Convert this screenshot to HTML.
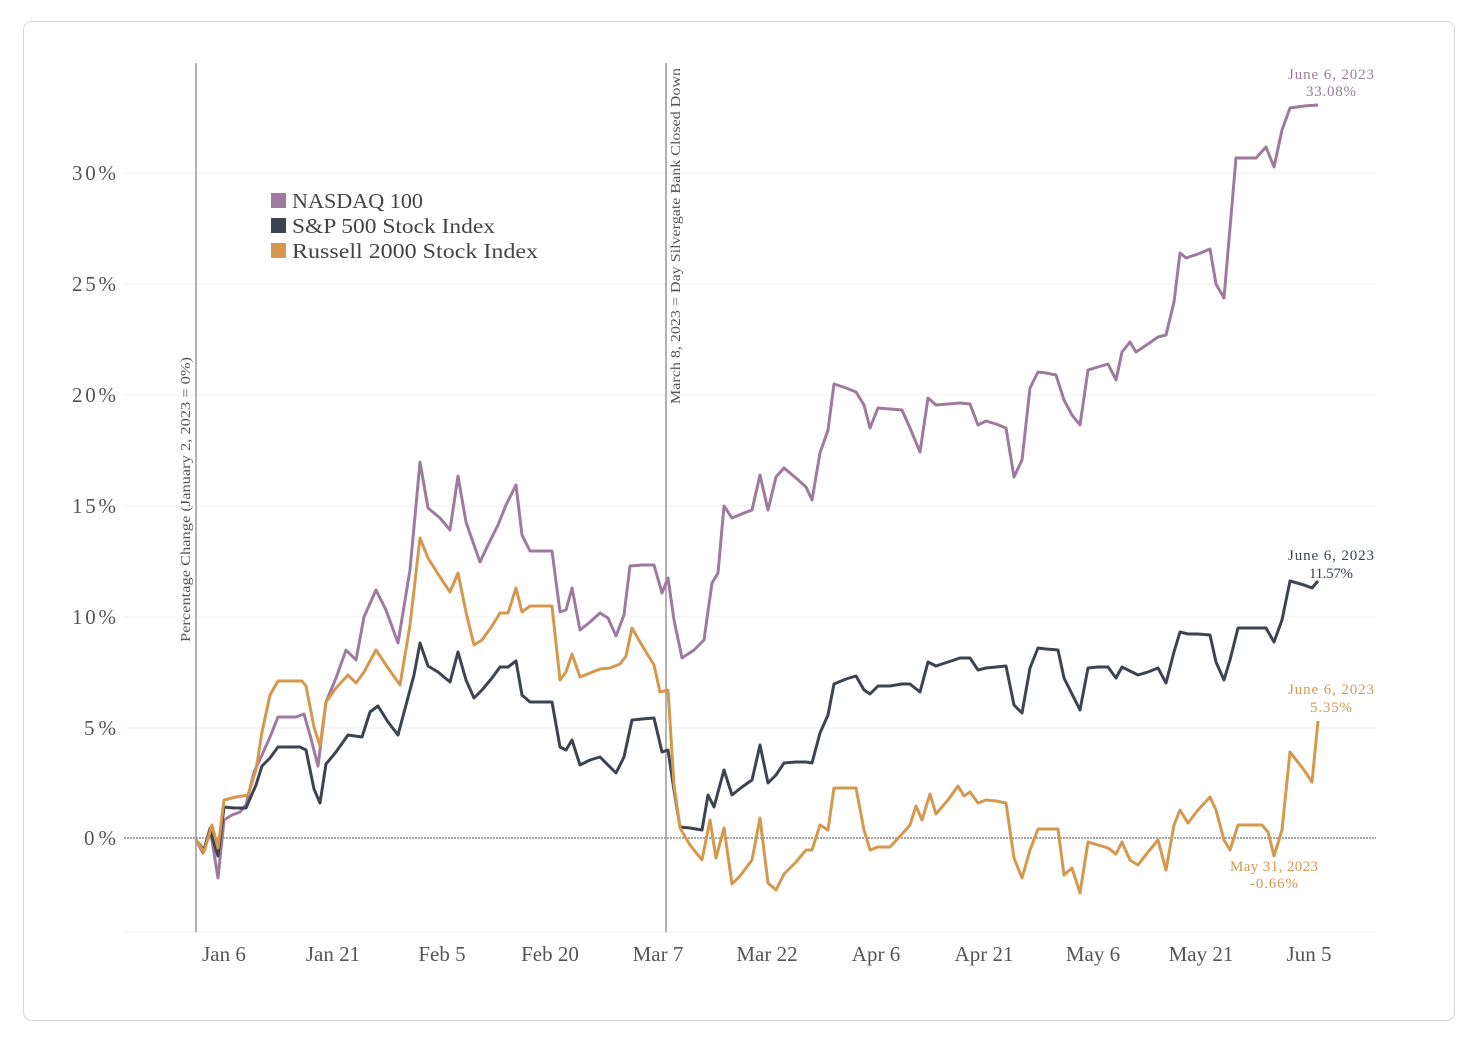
<!DOCTYPE html>
<html><head><meta charset="utf-8"><style>
html,body{margin:0;padding:0;background:#fff;}
svg{display:block;font-family:"Liberation Serif",serif;}
</style></head><body>
<svg width="1466" height="1038" viewBox="0 0 1466 1038" xmlns="http://www.w3.org/2000/svg">
<rect x="23.5" y="21.5" width="1431" height="999" rx="8" fill="#fff" stroke="#d8d8d8"/>
<g stroke="#f0f0f0" stroke-width="1">
<line x1="124" x2="1376" y1="173" y2="173"/><line x1="124" x2="1376" y1="284" y2="284"/>
<line x1="124" x2="1376" y1="395" y2="395"/><line x1="124" x2="1376" y1="506" y2="506"/>
<line x1="124" x2="1376" y1="617" y2="617"/><line x1="124" x2="1376" y1="728" y2="728"/>
<line x1="124" x2="1376" y1="932" y2="932"/>
</g>
<line x1="124" x2="1376" y1="838" y2="838" stroke="#888" stroke-width="1.5" stroke-dasharray="2,1"/>
<line x1="196" x2="196" y1="63" y2="932" stroke="#999" stroke-width="1.5"/>
<line x1="666" x2="666" y1="63" y2="932" stroke="#999" stroke-width="1.5"/>
<g font-size="21" fill="#555" text-anchor="end">
<text x="116" y="180" textLength="44">30%</text><text x="116" y="291" textLength="44">25%</text><text x="116" y="402" textLength="44">20%</text>
<text x="116" y="513" textLength="44">15%</text><text x="116" y="624" textLength="44">10%</text><text x="116" y="735" textLength="32">5%</text>
<text x="116" y="845" textLength="32">0%</text>
</g>
<g font-size="21" fill="#555" text-anchor="middle">
<text x="224" y="961">Jan 6</text><text x="333" y="961">Jan 21</text><text x="442" y="961">Feb 5</text>
<text x="550" y="961">Feb 20</text><text x="658" y="961">Mar 7</text><text x="767" y="961">Mar 22</text>
<text x="876" y="961">Apr 6</text><text x="984" y="961">Apr 21</text><text x="1093" y="961">May 6</text>
<text x="1201" y="961">May 21</text><text x="1309" y="961">Jun 5</text>
</g>
<text transform="translate(190,642) rotate(-90)" font-size="14" fill="#555" textLength="285" lengthAdjust="spacingAndGlyphs">Percentage Change (January 2, 2023 = 0%)</text>
<text transform="translate(680,404) rotate(-90)" font-size="14" fill="#555" textLength="336" lengthAdjust="spacingAndGlyphs">March 8, 2023 = Day Silvergate Bank Closed Down</text>
<g font-size="21" fill="#444">
<rect x="271" y="193" width="15" height="15" fill="#9e7a9e"/><text x="292" y="208" textLength="131" lengthAdjust="spacingAndGlyphs">NASDAQ 100</text>
<rect x="271" y="218" width="15" height="15" fill="#3c4452"/><text x="292" y="233" textLength="203" lengthAdjust="spacingAndGlyphs">S&amp;P 500 Stock Index</text>
<rect x="271" y="243" width="15" height="15" fill="#d4984e"/><text x="292" y="258" textLength="246" lengthAdjust="spacingAndGlyphs">Russell 2000 Stock Index</text>
</g>
<g fill="none" stroke-width="3" stroke-linejoin="round">
<polyline stroke="#9e7a9e" points="196,840 203,853 210,828 218,878 224,820 232,815 240,812 246,805 254,772 262,755 270,737 278,717 284,717 296,717 304,714 310,735 318,766 326,702 336,678 346,650 356,660 364,617 376,590 386,610 398,643 410,570 420,462 428,508 440,518 450,530 458,476 466,522 474,545 480,562 488,545 498,525 506,505 516,485 522,535 530,551 540,551 552,551 560,612 566,610 572,588 580,630 590,622 600,613 608,618 616,636 624,615 630,566 642,565 654,565 662,593 668,578 674,620 682,658 694,650 704,640 712,583 718,573 724,506 732,518 744,513 752,510 760,475 768,510 776,477 784,468 796,478 806,487 812,500 820,453 828,430 834,384 846,388 856,392 864,405 870,428 878,408 890,409 902,410 910,428 920,452 928,398 936,405 948,404 960,403 970,404 978,425 986,421 996,424 1006,428 1014,477 1022,460 1030,388 1038,372 1046,373 1056,375 1064,400 1072,415 1080,425 1088,370 1098,367 1108,364 1116,380 1122,352 1130,342 1136,352 1148,344 1158,337 1166,335 1174,302 1180,253 1186,258 1198,254 1210,249 1216,284 1224,298 1236,158 1248,158 1256,158 1266,147 1274,167 1282,130 1290,108 1304,106 1318,105"/>
<polyline stroke="#3c4452" points="196,840 204,850 210,830 218,856 224,807 234,808 246,808 256,785 262,766 270,758 278,747 290,747 300,747 306,750 314,789 320,803 326,764 336,752 348,735 362,737 370,712 378,706 388,722 398,735 406,705 414,675 420,643 428,666 438,672 450,682 458,652 466,680 474,698 482,690 492,678 500,667 508,667 516,661 522,695 530,702 542,702 552,702 560,747 566,750 572,740 580,765 590,760 600,757 608,765 616,773 624,757 632,720 642,719 654,718 662,752 668,750 674,790 680,827 690,828 702,830 708,795 714,807 724,770 732,795 742,787 752,780 760,745 768,783 776,775 784,763 796,762 806,762 812,763 820,733 828,715 834,684 846,679 856,676 864,690 870,694 878,686 890,686 902,684 910,684 920,692 928,662 936,666 948,662 960,658 970,658 978,670 986,668 996,667 1006,666 1014,705 1022,713 1030,668 1038,648 1046,649 1058,650 1064,678 1072,694 1080,710 1088,668 1098,667 1108,667 1116,678 1122,667 1132,672 1138,675 1148,672 1158,668 1166,683 1174,652 1180,632 1188,634 1198,634 1210,635 1216,662 1224,680 1230,660 1238,628 1250,628 1266,628 1274,642 1282,620 1290,581 1304,585 1312,588 1318,581"/>
<polyline stroke="#d4984e" points="196,840 204,852 212,825 218,848 224,800 236,797 248,795 256,770 262,732 270,695 278,681 290,681 302,681 306,686 314,727 320,746 326,702 336,688 348,675 356,683 364,672 376,650 388,668 400,685 410,625 420,538 428,558 440,577 450,592 458,573 466,612 474,645 482,640 492,626 500,613 508,613 516,588 522,612 530,606 542,606 552,606 560,680 566,672 572,654 580,677 590,673 600,669 610,668 620,664 626,656 632,628 640,642 654,665 660,692 668,690 674,785 680,828 690,845 702,860 710,820 716,858 724,828 732,884 740,876 752,860 760,818 768,883 776,890 784,874 796,862 806,850 812,850 820,825 828,830 834,788 846,788 856,788 864,830 870,850 878,847 890,847 902,834 910,825 916,806 922,820 930,794 936,814 948,800 958,786 964,796 970,792 978,803 986,800 996,801 1006,803 1014,858 1022,878 1030,850 1038,829 1046,829 1058,829 1064,875 1072,868 1080,893 1088,842 1098,845 1108,848 1116,854 1122,842 1130,860 1138,865 1148,852 1158,840 1166,870 1174,825 1180,810 1188,823 1198,810 1210,797 1216,810 1224,840 1230,850 1238,825 1250,825 1262,825 1268,832 1274,856 1282,830 1290,752 1304,770 1312,782 1318,721"/>
</g>
<g font-size="15" text-anchor="middle">
<text x="1331" y="79" fill="#9e7a9e" textLength="86">June 6, 2023</text><text x="1331" y="96" fill="#9e7a9e" textLength="50">33.08%</text>
<text x="1331" y="560" fill="#3c4452" textLength="86">June 6, 2023</text><text x="1331" y="578" fill="#3c4452" textLength="44">11.57%</text>
<text x="1331" y="694" fill="#d4984e" textLength="86">June 6, 2023</text><text x="1331" y="712" fill="#d4984e" textLength="42">5.35%</text>
<text x="1274" y="871" fill="#d4984e" textLength="88">May 31, 2023</text><text x="1274" y="888" fill="#d4984e" textLength="48">-0.66%</text>
</g>
</svg>
</body></html>
